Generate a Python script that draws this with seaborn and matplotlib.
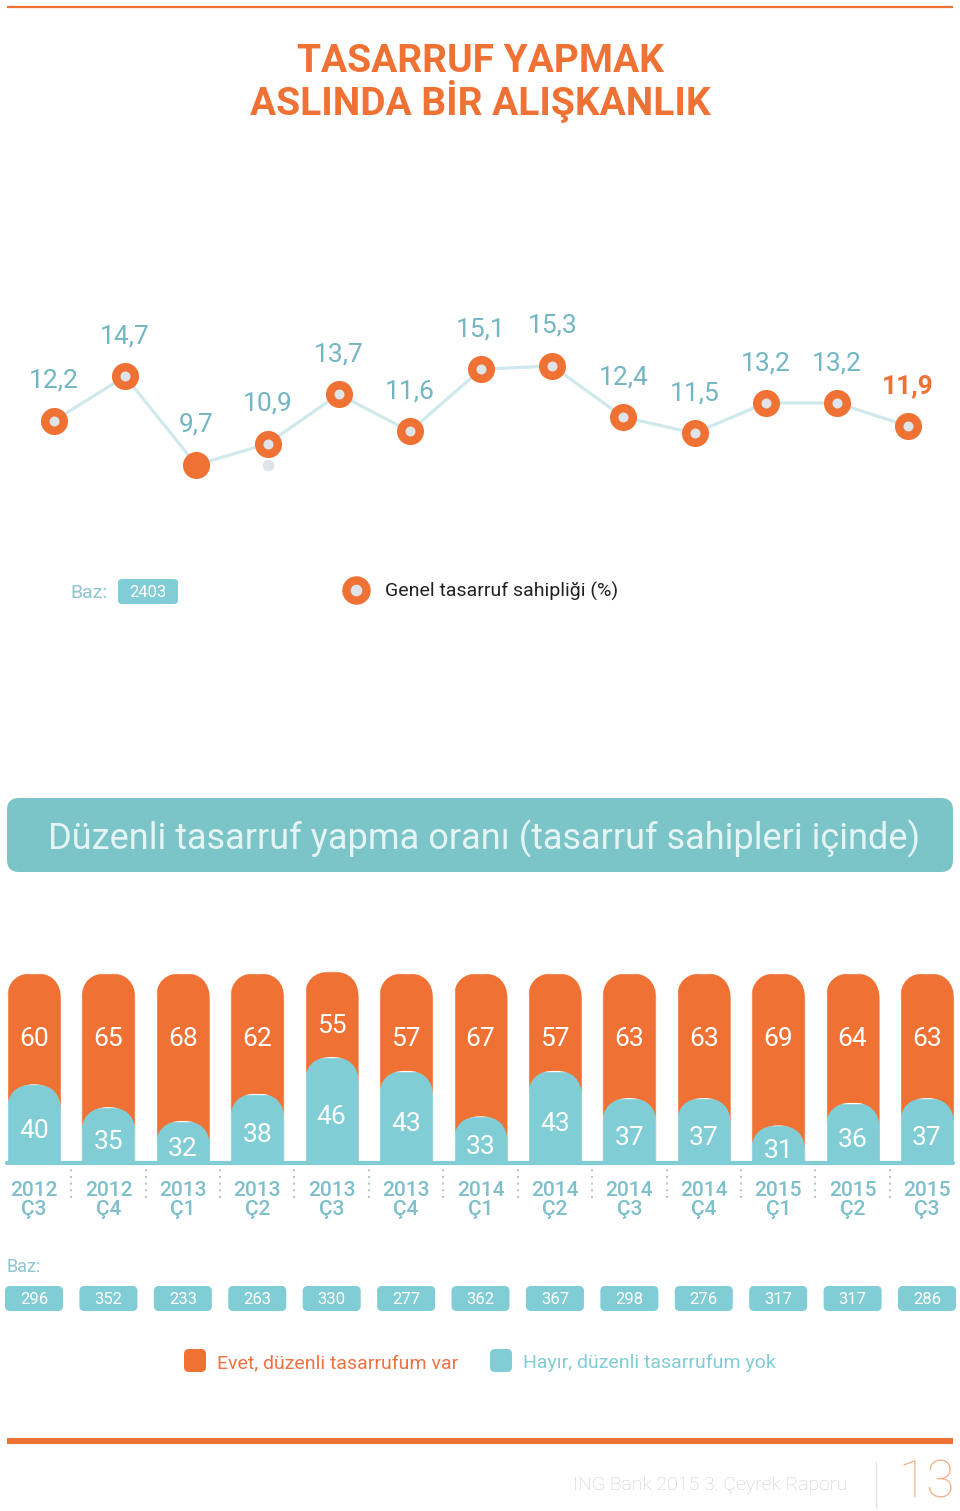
import numpy as np
import pandas as pd
import matplotlib
matplotlib.use("Agg")
import matplotlib.pyplot as plt
import seaborn as sns
from matplotlib.patches import FancyBboxPatch
from matplotlib.transforms import IdentityTransform

# ---------------- data ----------------
years = ["2012", "2012", "2013", "2013", "2013", "2013", "2014", "2014",
         "2014", "2014", "2015", "2015", "2015"]
quarters = ["Ç3", "Ç4", "Ç1", "Ç2", "Ç3", "Ç4", "Ç1", "Ç2",
            "Ç3", "Ç4", "Ç1", "Ç2", "Ç3"]
genel = [12.2, 14.7, 9.7, 10.9, 13.7, 11.6, 15.1, 15.3, 12.4, 11.5, 13.2, 13.2, 11.9]
ring = [True, True, False, True, True, True, True, True, True, True, True, True, True]
ghost_x = [3]
ghost_y = [9.7]
evet = [60, 65, 68, 62, 55, 57, 67, 57, 63, 63, 69, 64, 63]
hayir = [40, 35, 32, 38, 46, 43, 33, 43, 37, 37, 31, 36, 37]
baz = [296, 352, 233, 263, 330, 277, 362, 367, 298, 276, 317, 317, 286]
baz_total = 2403

# ---------------- style ----------------
ORANGE = "#f07134"
TEAL = "#80cdd5"
BANNER = "#7bc4c7"
LBLUE = "#73b6c3"
LINE = "#cfe9ed"
GRAYC = "#dfe4e9"

sns.set_theme(style="white")
plt.rcParams["font.family"] = ["Roboto", "DejaVu Sans"]

W, H = 960, 1511
fig = plt.figure(figsize=(W / 100, H / 100), dpi=100)
fig.patch.set_facecolor("white")


def fig_rect(x0, y0, x1, y1):
    return [x0 / W, 1 - y1 / H, (x1 - x0) / W, (y1 - y0) / H]


# background axes in pixel coordinates for decorations
bg = fig.add_axes([0, 0, 1, 1])
bg.set_xlim(0, W)
bg.set_ylim(H, 0)
bg.axis("off")

# top & bottom rules
bg.plot([7, 953], [7, 7], color=ORANGE, lw=1.6, solid_capstyle="butt")
bg.plot([7, 953], [1441, 1441], color=ORANGE, lw=4.3, solid_capstyle="butt")

# title
bg.text(480, 72, "TASARRUF YAPMAK", ha="center", va="baseline",
        fontsize=28, fontweight="bold", color=ORANGE)
bg.text(480, 115, "ASLINDA BİR ALIŞKANLIK", ha="center", va="baseline",
        fontsize=28, fontweight="bold", color=ORANGE)

# ---------------- line chart ----------------
ax1 = fig.add_axes(fig_rect(0, 300, 960, 500))
idx = np.arange(len(genel))
df_line = pd.DataFrame({"i": idx, "v": genel, "ring": ring})
sns.lineplot(data=df_line, x="i", y="v", ax=ax1, color=LINE, lw=2.3, zorder=1)
sns.scatterplot(data=df_line, x="i", y="v", ax=ax1, color=ORANGE, s=380,
                linewidth=0, zorder=3)
sns.scatterplot(data=df_line[df_line["ring"]], x="i", y="v", ax=ax1, color=GRAYC,
                s=52, linewidth=0, zorder=4)
ax1.scatter(ghost_x, ghost_y, s=70, color=GRAYC, linewidths=0, zorder=2)
for i, v in enumerate(genel):
    last = i == len(genel) - 1
    ax1.annotate(f"{v:.1f}".replace(".", ","), (i, v), xytext=(0, 40),
                 textcoords="offset pixels", ha="center", va="center",
                 fontsize=19, color=ORANGE if last else LBLUE,
                 fontweight="bold" if last else "normal")
ax1.set_xlim(-0.759, 12.73)
ax1.set_ylim(7.72, 19.02)
ax1.axis("off")

# legend row
bg.text(70, 598, "Baz:", ha="left", va="baseline", fontsize=14, color="#8cc6cf")
bg.add_patch(FancyBboxPatch((118, 579), 60, 25, boxstyle="round,pad=0,rounding_size=4",
                            fc=TEAL, ec="none"))
bg.text(148, 597, f"{baz_total}", ha="center", va="baseline", fontsize=12, color="white")
bg.scatter([356], [590], s=420, color=ORANGE, linewidths=0)
bg.scatter([356], [590], s=70, color=GRAYC, linewidths=0)
bg.text(385, 597, "Genel tasarruf sahipliği (%)", ha="left", va="baseline",
        fontsize=14, color="#222222")

# banner
bg.add_patch(FancyBboxPatch((7, 798), 946, 74, boxstyle="round,pad=0,rounding_size=12",
                            fc=BANNER, ec="none"))
bg.text(484, 849, "Düzenli tasarruf yapma oranı (tasarruf sahipleri içinde)",
        ha="center", va="baseline", fontsize=26, color="#e4f4f4")

# ---------------- stacked bars ----------------
ax2 = fig.add_axes(fig_rect(0, 973, 960, 1163))
labels = [f"{y}\n{q}" for y, q in zip(years, quarters)]
df_bar = pd.DataFrame({"ceyrek": labels, "evet": evet, "hayir": hayir})
df_bar["toplam"] = df_bar["evet"] + df_bar["hayir"]
sns.barplot(data=df_bar, x="ceyrek", y="toplam", color=ORANGE, saturation=1,
            width=0.726, ax=ax2, zorder=2)
sns.barplot(data=df_bar, x="ceyrek", y="hayir", color=TEAL, saturation=1,
            width=0.726, ax=ax2, zorder=3)

kv = [-100, 0, 30, 46, 100, 200]
kp = [-110, 0, 33, 106, 190, 345.6]


def fwd(v):
    return np.interp(v, kv, kp)


def inv(p):
    return np.interp(p, kp, kv)


ax2.set_yscale("function", functions=(fwd, inv))
ax2.set_ylim(0, 100)
ax2.set_xlim(-0.457, 12.443)
for s in ax2.spines.values():
    s.set_visible(False)
ax2.set_yticks([])
ax2.set_ylabel("")
ax2.set_xlabel("")
ax2.set_facecolor("none")
ax2.set_xticks(range(len(labels)), labels=labels)
ax2.tick_params(axis="x", length=0, pad=13, labelsize=15, labelcolor="#7dbfca")
for t in ax2.get_xticklabels():
    t.set_linespacing(0.98)
    t.set_fontweight("medium")

ax2.axhline(0, xmin=7 / 960, xmax=953 / 960, color=TEAL, lw=3, clip_on=False, zorder=4)
ax2.vlines(np.arange(len(labels) - 1) + 0.5, -0.184, -0.032,
           transform=ax2.get_xaxis_transform(), colors="#b9c5c9", lw=1.5,
           linestyles=(0, (1, 2.2)), clip_on=False)

evet_lab = [57.5 if h < 45 else 66 for h in hayir]
for i, (e, h) in enumerate(zip(evet, hayir)):
    ax2.text(i, evet_lab[i], str(e), ha="center", va="center", fontsize=19,
             color="white", zorder=5)
    ax2.annotate(str(h), xy=(i, inv(fwd(h) / 2)), xytext=(0, -7),
                 textcoords="offset pixels", ha="center", va="center",
                 fontsize=19, color="white", zorder=5)

# rounded tops for bars
fig.canvas.draw()
for p in ax2.patches:
    x0, y0 = p.get_x(), p.get_y()
    w, h = p.get_width(), p.get_height()
    px0, py0 = ax2.transData.transform((x0, y0))
    px1, py1 = ax2.transData.transform((x0 + w, y0 + h))
    r = (px1 - px0) / 2
    clip = FancyBboxPatch((px0, py0 - 60), px1 - px0, py1 - py0 + 60,
                          boxstyle=f"round,pad=0,rounding_size={r}",
                          transform=IdentityTransform())
    p.set_clip_path(clip)
    p.set_clip_box(None)

# Baz boxes
bg.text(7, 1272, "Baz:", ha="left", va="baseline", fontsize=13, color="#8cc6cf")
for i, b in enumerate(baz):
    cx = ax2.transData.transform((i, 0))[0]
    bg.add_patch(FancyBboxPatch((cx - 29, 1286), 58, 25,
                                boxstyle="round,pad=0,rounding_size=5",
                                fc=TEAL, ec="none"))
    bg.text(cx, 1304, str(b), ha="center", va="baseline", fontsize=12, color="white")

# bottom legend
bg.add_patch(FancyBboxPatch((184, 1349), 22, 23, boxstyle="round,pad=0,rounding_size=5",
                            fc=ORANGE, ec="none"))
bg.text(217, 1368, "Evet, düzenli tasarrufum var", ha="left", va="baseline",
        fontsize=14, color="#ee7140")
bg.add_patch(FancyBboxPatch((490, 1349), 22, 23, boxstyle="round,pad=0,rounding_size=5",
                            fc=TEAL, ec="none"))
bg.text(523, 1368, "Hayır, düzenli tasarrufum yok", ha="left", va="baseline",
        fontsize=14, color="#82cdd5")

# footer
bg.text(847, 1490, "ING Bank 2015 3. Çeyrek Raporu", ha="right", va="baseline",
        fontsize=14, color="#cccccc", fontweight="light")
bg.plot([876, 876], [1462, 1508], color="#e3e3e3", lw=1)
bg.text(926, 1484, "13", ha="center", va="center", fontsize=37, color="#f4b48a",
        fontweight="ultralight")

fig.savefig("out.png", dpi=100, facecolor="white")
